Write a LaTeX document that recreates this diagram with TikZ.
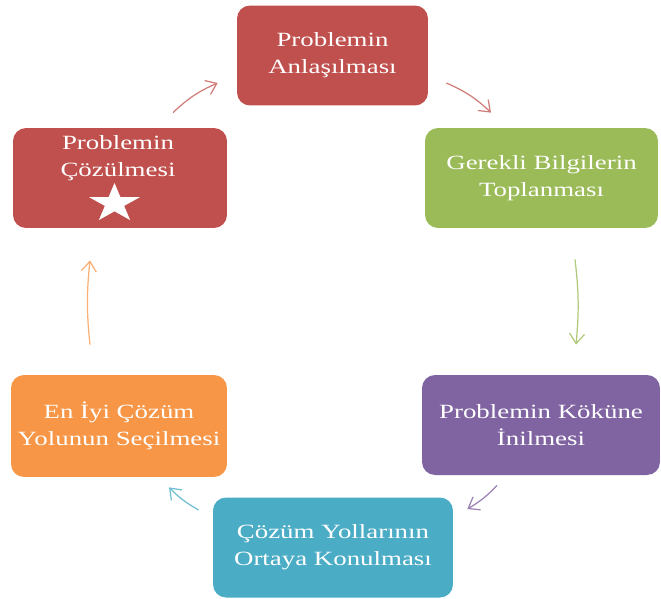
\documentclass[tikz,border=0pt]{standalone}
\usepackage{fontspec}
\setmainfont{Liberation Serif}[FakeStretch=1.33]
\usepackage{tikz}
\usetikzlibrary{arrows.meta}
\definecolor{accred}{HTML}{C0504D}
\definecolor{accgreen}{HTML}{9BBB59}
\definecolor{accpurple}{HTML}{8064A2}
\definecolor{acccyan}{HTML}{4BACC6}
\definecolor{accorange}{HTML}{F79646}

\begin{document}
\begin{tikzpicture}[
      x=0.02cm, y=-0.02cm,
      font=\fontsize{11.5}{15.4}\selectfont,
      box/.style={rounded corners=0.26cm, inner sep=0pt,
                  minimum height=2cm, align=center, text=white},
      cyc/.style={-{Straight Barb[length=2mm,width=3mm]}, line width=0.7pt}
    ]
    \useasboundingbox (0,0) rectangle (661,598);

    \node[box, fill=accred,    minimum width=3.82cm] (understand) at (332.5,55.5)
      {Problemin\\Anlaşılması};
    \node[box, fill=accgreen,  minimum width=4.66cm] (gather) at (541.5,178)
      {Gerekli Bilgilerin\\Toplanması};
    \node[box, fill=accpurple, minimum width=4.76cm] (root) at (541,425)
      {Problemin Köküne\\İnilmesi};
    \node[box, fill=acccyan,   minimum width=4.8cm] (ways) at (333,547.5)
      {Çözüm Yollarının\\Ortaya Konulması};
    \node[box, fill=accorange, minimum width=4.32cm, minimum height=2.04cm] (best) at (119,426)
      {En İyi Çözüm\\Yolunun Seçilmesi};
    \node[box, fill=accred,    minimum width=4.28cm] (solve) at (120,178) {};
    \node[align=center, text=white] (solvetext) at ([shift={(-2,-20)}]solve.center)
      {Problemin\\Çözülmesi};

    % star under the text, squeezed like the labels
    \fill[white] (114.5,183)
      \foreach \k in {0,...,4} {
        -- ({114.5+1.3*7.8*cos(-54+72*\k)},{203.5+7.8*sin(-54+72*\k)})
        -- ({114.5+1.3*20.5*cos(-18+72*\k)},{203.5+20.5*sin(-18+72*\k)})
      } -- cycle;

    % cycle arcs in the gaps
    \draw[cyc, accred!75]    ([shift={(53,-15)}]solve.north)     to[bend left=10]  ([shift={(-19,27.5)}]understand.west);
    \draw[cyc, accred!75]    ([shift={(18,27.5)}]understand.east) to[bend left=10]  ([shift={(-50.5,-15)}]gather.north);
    \draw[cyc, accgreen!80]  ([shift={(33.5,31)}]gather.south)    to[bend left=6]   ([shift={(35,-30)}]root.north);
    \draw[cyc, accpurple!80] ([shift={(-44,10)}]root.south)       to[bend left=8]   ([shift={(14,-38.5)}]ways.east);
    \draw[cyc, acccyan!80]   ([shift={(-14,-37.5)}]ways.west)     to[bend left=8]   ([shift={(50,10)}]best.south);
    \draw[cyc, accorange!75] ([shift={(-29,-30)}]best.north)      to[bend left=6]   ([shift={(-30,32)}]solve.south);

  \end{tikzpicture}
\end{document}
